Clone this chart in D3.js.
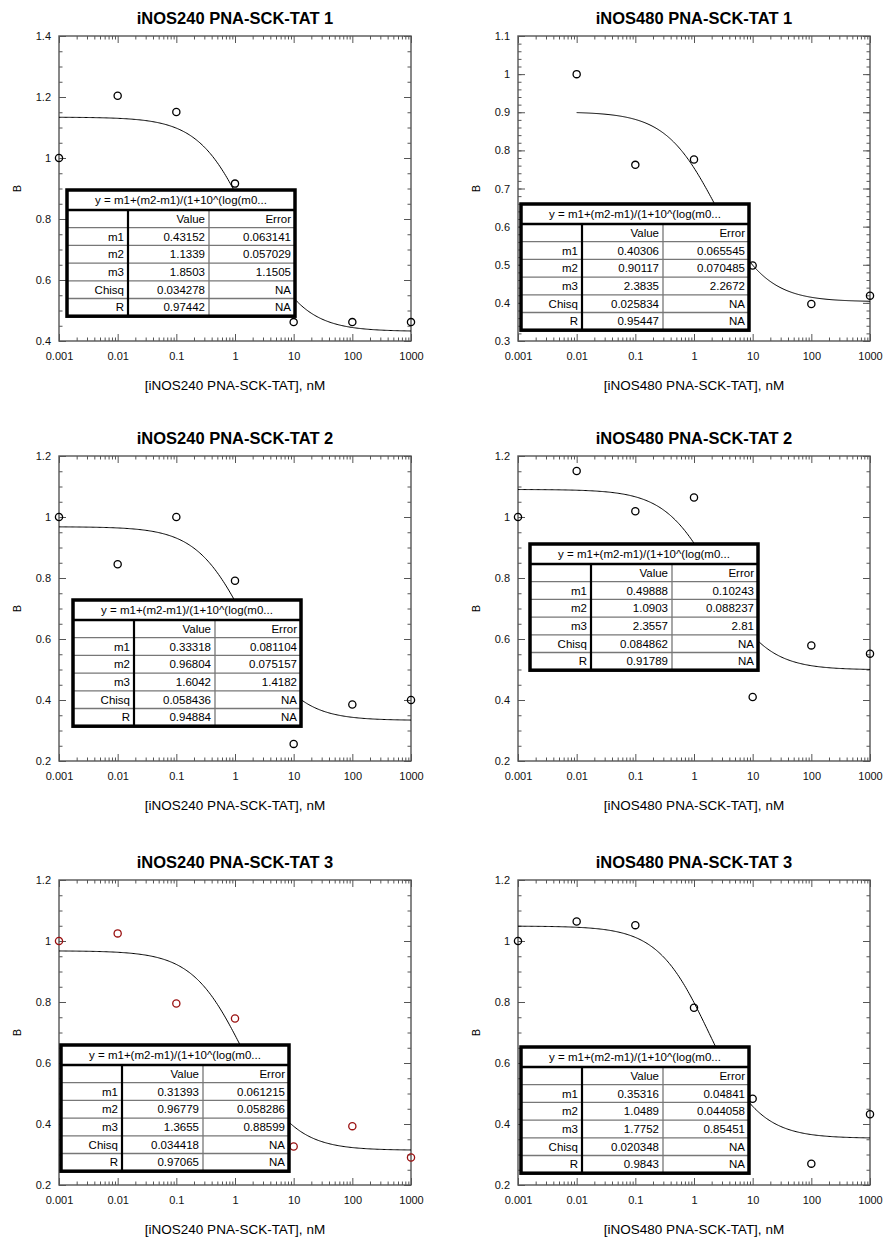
<!DOCTYPE html>
<html>
  <head>
    <meta charset="utf-8">
    <title>iNOS PNA-SCK-TAT binding</title>
    <script src="https://d3js.org/d3.v7.min.js"></script>
    <style>
      body { margin: 0; background: #fff; }
      svg { display: block; font-family: "Liberation Sans", Arial, sans-serif; }
      .tick line { stroke: #555; }
      .tick text { fill: #111; font-size: 11px; }
    </style>
  </head>
  <body>
    <svg id="chart" width="883" height="1239"></svg>
    <script>
      // panel titles and axis labels
      var titles = ["iNOS240 PNA-SCK-TAT 1", "iNOS480 PNA-SCK-TAT 1",
                    "iNOS240 PNA-SCK-TAT 2", "iNOS480 PNA-SCK-TAT 2",
                    "iNOS240 PNA-SCK-TAT 3", "iNOS480 PNA-SCK-TAT 3"];
      var xTitles = ["[iNOS240 PNA-SCK-TAT], nM", "[iNOS480 PNA-SCK-TAT], nM"];
      var xTickLabels = ["0.001", "0.01", "0.1", "1", "10", "100", "1000"];
      var yDomains = [[0.4, 1.4], [0.3, 1.1], [0.2, 1.2], [0.2, 1.2], [0.2, 1.2], [0.2, 1.2]];
      var yMajor = [0.2, 0.1, 0.2, 0.2, 0.2, 0.2];
      var yMinor = [0.05, 0.02, 0.05, 0.05, 0.05, 0.05];

      // measured B values at each concentration (nM)
      var conc = [0.001, 0.01, 0.1, 1, 10, 100, 1000];
      var b240_1 = [1.0, 1.204, 1.151, 0.916, 0.462, 0.462, 0.462];
      var b480_1 = [null, 1.0, 0.762, 0.776, 0.498, 0.397, 0.419];
      var b240_2 = [1.0, 0.845, 1.0, 0.791, 0.256, 0.385, 0.40];
      var b480_2 = [1.0, 1.151, 1.019, 1.064, 0.410, 0.579, 0.552];
      var b240_3 = [1.0, 1.025, 0.795, 0.746, 0.326, 0.393, 0.290];
      var b480_3 = [1.0, 1.064, 1.052, 0.781, 0.483, 0.270, 0.432];
      var series = [b240_1, b480_1, b240_2, b480_2, b240_3, b480_3];

      // curve fit results
      var m1 = [0.43152, 0.40306, 0.33318, 0.49888, 0.31393, 0.35316];
      var m2 = [1.1339, 0.90117, 0.96804, 1.0903, 0.96779, 1.0489];
      var m3 = [1.8503, 2.3835, 1.6042, 2.3557, 1.3655, 1.7752];
      var m1Text = ["0.43152", "0.40306", "0.33318", "0.49888", "0.31393", "0.35316"];
      var m2Text = ["1.1339", "0.90117", "0.96804", "1.0903", "0.96779", "1.0489"];
      var m3Text = ["1.8503", "2.3835", "1.6042", "2.3557", "1.3655", "1.7752"];
      var m1Err = ["0.063141", "0.065545", "0.081104", "0.10243", "0.061215", "0.04841"];
      var m2Err = ["0.057029", "0.070485", "0.075157", "0.088237", "0.058286", "0.044058"];
      var m3Err = ["1.1505", "2.2672", "1.4182", "2.81", "0.88599", "0.85451"];
      var chisq = ["0.034278", "0.025834", "0.058436", "0.084862", "0.034418", "0.020348"];
      var rVal = ["0.97442", "0.95447", "0.94884", "0.91789", "0.97065", "0.9843"];
      var fitStart = [0.001, 0.01, 0.001, 0.001, 0.001, 0.001];
      var fitLabel = "y = m1+(m2-m1)/(1+10^(log(m0...";

      // layout
      var plotLeft = [59, 518];
      var plotTop = [36, 456, 880];
      var plotW = 352, plotH = 305;
      var tableOffset = [[8, 154], [3, 168], [14, 144], [12, 88], [2, 165], [3, 167]];
      var pointColour = ["#000", "#000", "#000", "#000", "#9a1111", "#000"];
      var colW = [61, 81, 86], headH = 20, rowH = 17.7;

      var svg = d3.select("#chart");

      series.forEach(function(vals, i) {
        var col = i % 2, row = Math.floor(i / 2);
        var g = svg.append("g")
          .attr("transform", "translate(" + plotLeft[col] + "," + plotTop[row] + ")");

        var x = d3.scaleLog().domain([0.001, 1000]).range([0, plotW]);
        var y = d3.scaleLinear().domain(yDomains[i]).range([plotH, 0]);

        var d0 = yDomains[i][0], d1 = yDomains[i][1];
        var majors = d3.range(0, Math.round((d1 - d0) / yMajor[i]) + 1)
          .map(function(k) { return +(d0 + k * yMajor[i]).toFixed(3); });
        var minors = d3.range(0, Math.round((d1 - d0) / yMinor[i]) + 1)
          .map(function(k) { return +(d0 + k * yMinor[i]).toFixed(3); });
        var xMinors = [];
        conc.slice(0, 6).forEach(function(c) {
          d3.range(2, 10).forEach(function(m) { xMinors.push(c * m); });
        });

        // ticks (inward, on all four sides)
        g.append("g").call(d3.axisLeft(y).tickValues(minors).tickSizeInner(-3.5).tickSizeOuter(0).tickFormat(""));
        g.append("g").call(d3.axisLeft(y).tickValues(majors).tickSizeInner(-7).tickSizeOuter(0).tickPadding(8)
          .tickFormat(function(d) { return String(+d.toFixed(2)); }));
        g.append("g").attr("transform", "translate(" + plotW + ",0)")
          .call(d3.axisRight(y).tickValues(minors).tickSizeInner(-3.5).tickSizeOuter(0).tickFormat(""));
        g.append("g").attr("transform", "translate(" + plotW + ",0)")
          .call(d3.axisRight(y).tickValues(majors).tickSizeInner(-7).tickSizeOuter(0).tickFormat(""));
        g.append("g").attr("transform", "translate(0," + plotH + ")")
          .call(d3.axisBottom(x).tickValues(xMinors).tickSizeInner(-3.5).tickSizeOuter(0).tickFormat(""));
        g.append("g").attr("transform", "translate(0," + plotH + ")")
          .call(d3.axisBottom(x).tickValues(conc).tickSizeInner(-7).tickSizeOuter(0).tickPadding(11)
            .tickFormat(function(d, k) { return xTickLabels[k]; }));
        g.append("g")
          .call(d3.axisTop(x).tickValues(xMinors).tickSizeInner(-3.5).tickSizeOuter(0).tickFormat(""));
        g.append("g")
          .call(d3.axisTop(x).tickValues(conc).tickSizeInner(-7).tickSizeOuter(0).tickFormat(""));
        g.selectAll(".domain").remove();

        g.append("rect")
          .attr("width", plotW).attr("height", plotH)
          .attr("fill", "none").attr("stroke", "#555").attr("stroke-width", 1.4);

        // fitted curve
        var lo = Math.log10(fitStart[i]);
        var curve = d3.range(0, 301).map(function(k) {
          var cx = Math.pow(10, lo + (3 - lo) * k / 300);
          return [cx, m1[i] + (m2[i] - m1[i]) / (1 + cx / m3[i])];
        });
        g.append("path")
          .datum(curve)
          .attr("fill", "none").attr("stroke", "#000").attr("stroke-width", 1)
          .attr("d", d3.line().x(function(d) { return x(d[0]); }).y(function(d) { return y(d[1]); }));

        // measured points
        var pts = conc.map(function(c, k) { return [c, vals[k]]; })
          .filter(function(d) { return d[1] !== null; });
        g.selectAll(".pt")
          .data(pts)
          .enter().append("circle")
            .attr("class", "pt")
            .attr("cx", function(d) { return x(d[0]); })
            .attr("cy", function(d) { return y(d[1]); })
            .attr("r", 3.6)
            .attr("fill", "none")
            .attr("stroke", pointColour[i])
            .attr("stroke-width", 1.3);

        // labels
        g.append("text")
          .attr("x", plotW / 2).attr("y", -12)
          .attr("text-anchor", "middle")
          .style("font-size", "16.5px").style("font-weight", "bold")
          .text(titles[i]);
        g.append("text")
          .attr("x", plotW / 2).attr("y", plotH + 49)
          .attr("text-anchor", "middle")
          .style("font-size", "13.5px")
          .text(xTitles[col]);
        g.append("text")
          .attr("transform", "translate(-38," + (plotH / 2) + ") rotate(-90)")
          .attr("text-anchor", "middle")
          .style("font-size", "11px")
          .text("B");

        // fit results table
        var tw = d3.sum(colW), th = headH + 6 * rowH;
        var t = g.append("g")
          .attr("transform", "translate(" + tableOffset[i][0] + "," + tableOffset[i][1] + ")")
          .style("font-size", "11.5px");
        t.append("rect").attr("width", tw).attr("height", th).attr("fill", "#fff");
        var rows = [
          ["", "Value", "Error"],
          ["m1", m1Text[i], m1Err[i]],
          ["m2", m2Text[i], m2Err[i]],
          ["m3", m3Text[i], m3Err[i]],
          ["Chisq", chisq[i], "NA"],
          ["R", rVal[i], "NA"]
        ];
        rows.forEach(function(r, k) {
          var ry = headH + k * rowH;
          if (k > 0) {
            t.append("line").attr("x1", 0).attr("x2", tw).attr("y1", ry).attr("y2", ry)
              .attr("stroke", "#777").attr("stroke-width", 1.3);
          }
          var cx = 0;
          r.forEach(function(cell, c) {
            cx += colW[c];
            t.append("text")
              .attr("x", cx - 4).attr("y", ry + rowH / 2 + 4)
              .attr("text-anchor", "end")
              .text(cell);
          });
        });
        t.append("line").attr("x1", colW[0] + colW[1]).attr("x2", colW[0] + colW[1])
          .attr("y1", headH).attr("y2", th).attr("stroke", "#777").attr("stroke-width", 1.3);
        t.append("line").attr("x1", colW[0]).attr("x2", colW[0])
          .attr("y1", headH).attr("y2", th).attr("stroke", "#000").attr("stroke-width", 2.2);
        t.append("line").attr("x1", 0).attr("x2", tw).attr("y1", headH).attr("y2", headH)
          .attr("stroke", "#000").attr("stroke-width", 2.5);
        t.append("text")
          .attr("x", tw / 2).attr("y", headH / 2 + 4)
          .attr("text-anchor", "middle")
          .text(fitLabel);
        t.append("rect").attr("width", tw).attr("height", th)
          .attr("fill", "none").attr("stroke", "#000").attr("stroke-width", 3.5);
      });
    </script>
  </body>
</html>
